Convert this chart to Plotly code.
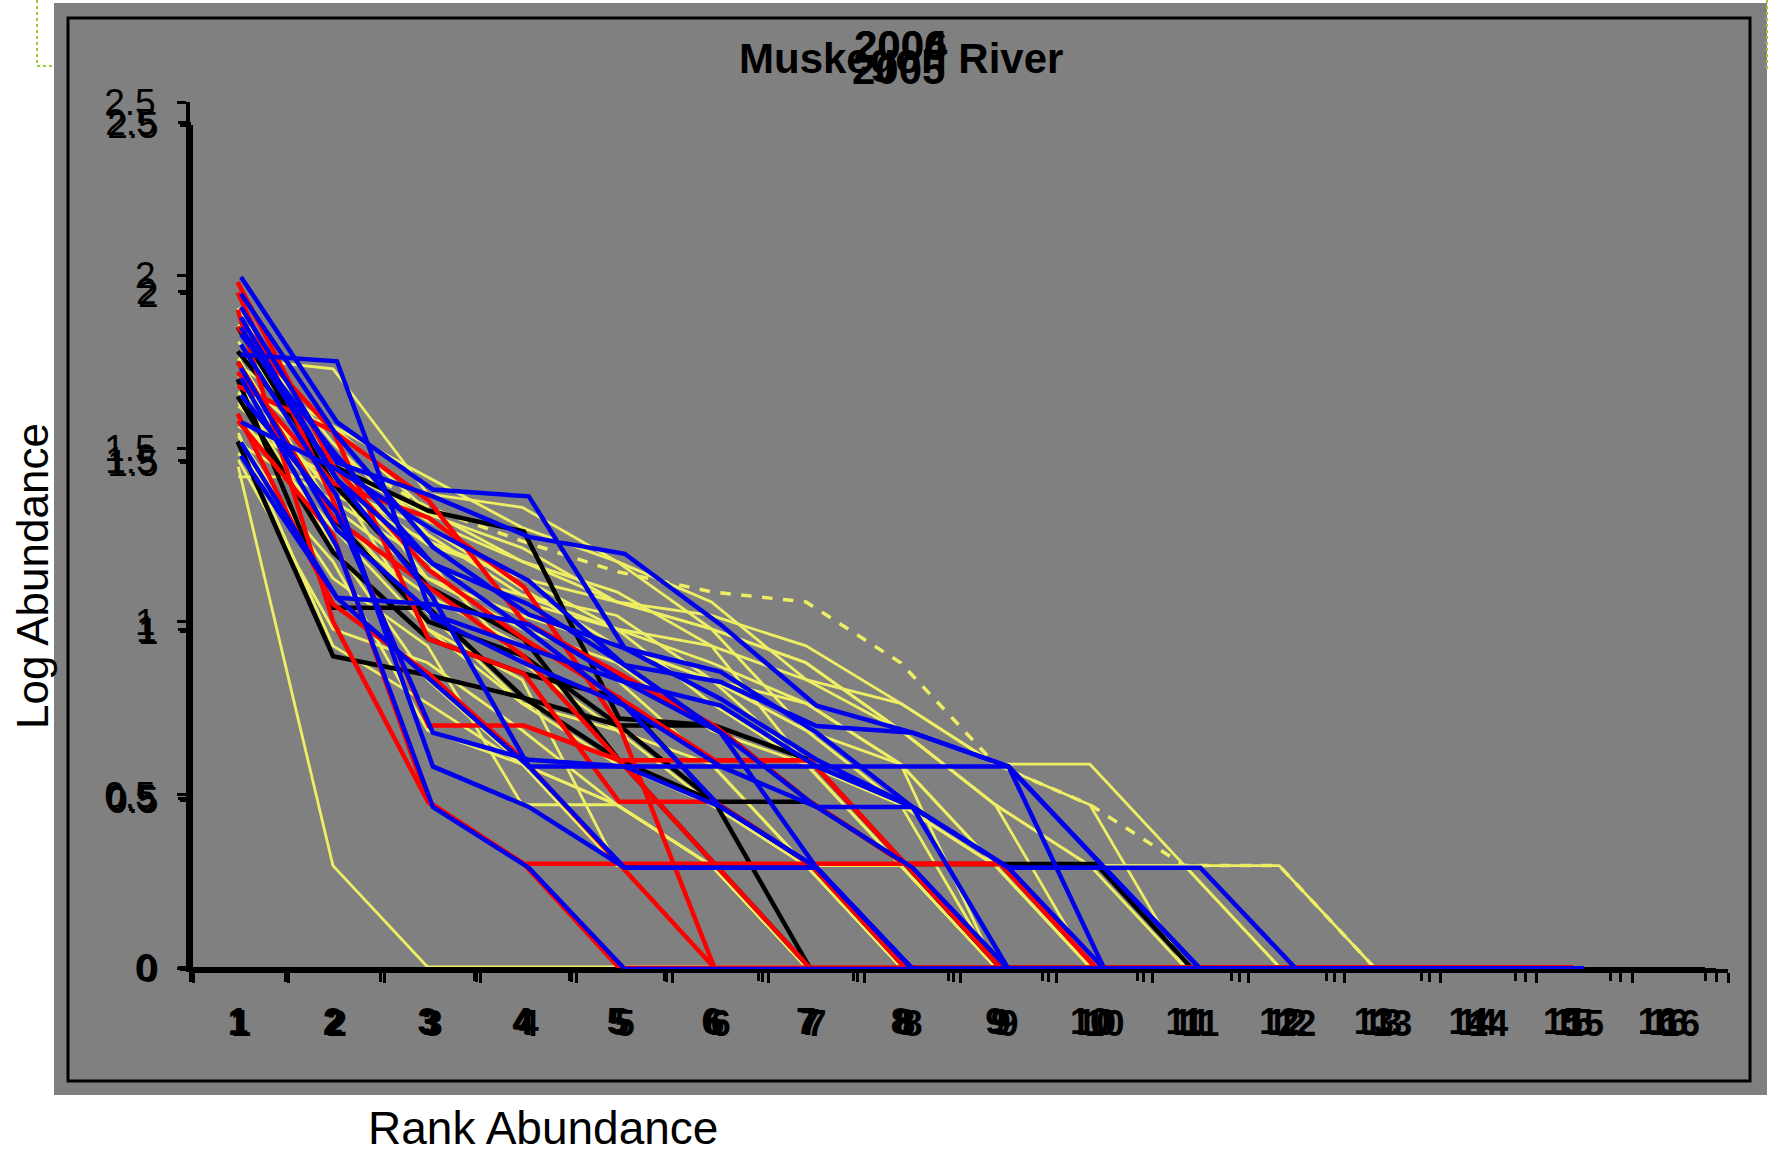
import plotly.graph_objects as go

W, H = 1770, 1154

ranks = list(range(1, 16))
rank_labels = [str(i) for i in range(1, 17)]
y_ticks = [0, 0.5, 1, 1.5, 2, 2.5]

# Log abundance by rank (each list covers ranks 1..15)
yellow_series = [
    [1.48, 0.30, 0, 0, 0, 0, 0, 0, 0, 0, 0, 0, 0, 0, 0],
    [1.72, 1.40, 1.26, 1.15, 1.08, 1.04, 0.95, 0.78, 0.60, 0.60, 0.30, 0, 0, 0, 0],
    [1.80, 1.77, 1.40, 1.36, 1.20, 1.08, 0.85, 0.70, 0.48, 0.30, 0.30, 0, 0, 0, 0],
    [1.70, 1.60, 1.45, 1.30, 1.20, 1.00, 0.90, 0.70, 0.48, 0, 0, 0, 0, 0, 0],
    [1.60, 1.45, 1.25, 1.15, 1.00, 0.90, 0.78, 0.60, 0.30, 0, 0, 0, 0, 0, 0],
    [1.55, 1.38, 1.20, 1.08, 1.00, 0.78, 0.60, 0.30, 0, 0, 0, 0, 0, 0, 0],
    [1.66, 1.42, 1.30, 1.12, 0.95, 0.85, 0.70, 0.48, 0.30, 0, 0, 0, 0, 0, 0],
    [1.75, 1.50, 1.15, 1.00, 0.90, 0.70, 0.60, 0.48, 0, 0, 0, 0, 0, 0, 0],
    [1.62, 1.30, 1.10, 0.95, 0.85, 0.60, 0.30, 0.30, 0, 0, 0, 0, 0, 0, 0],
    [1.50, 1.00, 0.90, 0.70, 0.48, 0.30, 0, 0, 0, 0, 0, 0, 0, 0, 0],
    [1.45, 1.45, 1.00, 0.85, 0.30, 0.30, 0, 0, 0, 0, 0, 0, 0, 0, 0],
    [1.80, 1.35, 1.05, 0.78, 0.60, 0.48, 0.30, 0, 0, 0, 0, 0, 0, 0, 0],
    [1.85, 1.48, 1.20, 0.90, 0.70, 0.60, 0.30, 0, 0, 0, 0, 0, 0, 0, 0],
    [1.57, 1.15, 0.95, 0.48, 0.48, 0.30, 0, 0, 0, 0, 0, 0, 0, 0, 0],
    [1.70, 1.25, 0.85, 0.60, 0.30, 0.30, 0, 0, 0, 0, 0, 0, 0, 0, 0],
    [1.78, 1.60, 1.35, 1.20, 1.08, 1.00, 0.70, 0.60, 0.30, 0.30, 0, 0, 0, 0, 0],
    [1.67, 1.36, 1.15, 1.04, 0.95, 0.85, 0.78, 0.60, 0, 0, 0, 0, 0, 0, 0],
    [1.90, 1.55, 1.28, 1.10, 1.00, 0.95, 0.85, 0.78, 0.60, 0.48, 0, 0, 0, 0, 0],
    [1.52, 1.20, 0.70, 0.60, 0.48, 0.30, 0.30, 0, 0, 0, 0, 0, 0, 0, 0],
    [1.63, 1.30, 1.00, 0.78, 0.70, 0.48, 0.30, 0.30, 0, 0, 0, 0, 0, 0, 0],
    [1.73, 1.45, 1.18, 1.10, 1.04, 0.85, 0.60, 0.48, 0.30, 0, 0, 0, 0, 0, 0],
    [1.58, 0.95, 0.78, 0.60, 0.48, 0.30, 0, 0, 0, 0, 0, 0, 0, 0, 0],
    [1.82, 1.50, 1.32, 1.20, 1.11, 0.95, 0.60, 0.30, 0, 0, 0, 0, 0, 0, 0],
    [1.68, 1.48, 1.34, 1.24, 1.08, 1.00, 0.90, 0.70, 0.48, 0.30, 0.30, 0.30, 0, 0, 0],
]
yellow_dashed = [1.95, 1.52, 1.36, 1.26, 1.17, 1.11, 1.08, 0.90, 0.60, 0.48, 0.30, 0.30, 0, 0, 0]

black_series = [
    [1.52, 0.90, 0.845, 0.78, 0.70, 0.48, 0.30, 0, 0, 0, 0, 0, 0, 0, 0],
    [1.70, 1.04, 1.04, 0.78, 0.60, 0.48, 0, 0, 0, 0, 0, 0, 0, 0, 0],
    [1.78, 1.45, 1.32, 1.26, 0.72, 0.70, 0.60, 0.30, 0, 0, 0, 0, 0, 0, 0],
    [1.75, 1.30, 1.00, 0.90, 0.70, 0.70, 0.48, 0.30, 0.30, 0.30, 0, 0, 0, 0, 0],
    [1.65, 1.20, 0.95, 0.85, 0.78, 0.48, 0.48, 0.30, 0, 0, 0, 0, 0, 0, 0],
    [1.85, 1.40, 1.10, 0.95, 0.60, 0.30, 0, 0, 0, 0, 0, 0, 0, 0, 0],
]

red_series = [
    [1.90, 1.00, 0.477, 0.301, 0.301, 0.301, 0.301, 0.301, 0.301, 0, 0, 0, 0, 0, 0],
    [1.95, 1.35, 0.70, 0.70, 0.60, 0.60, 0.60, 0.30, 0, 0, 0, 0, 0, 0, 0],
    [1.75, 1.30, 1.10, 0.90, 0.60, 0.30, 0, 0, 0, 0, 0, 0, 0, 0, 0],
    [1.85, 1.55, 1.35, 1.00, 0.85, 0.70, 0.48, 0.30, 0.30, 0, 0, 0, 0, 0, 0],
    [1.68, 1.55, 0.95, 0.85, 0.48, 0.48, 0.30, 0, 0, 0, 0, 0, 0, 0, 0],
    [1.60, 1.05, 0.85, 0.60, 0.30, 0, 0, 0, 0, 0, 0, 0, 0, 0, 0],
    [1.98, 1.45, 1.15, 0.95, 0.78, 0.60, 0.60, 0.30, 0.30, 0, 0, 0, 0, 0, 0],
    [1.72, 1.40, 1.30, 1.10, 0.70, 0, 0, 0, 0, 0, 0, 0, 0, 0, 0],
    [1.58, 1.25, 0.48, 0.30, 0, 0, 0, 0, 0, 0, 0, 0, 0, 0, 0],
]

blue_series = [
    [2.05, 1.62, 1.42, 1.40, 0.95, 0.88, 0.70, 0.48, 0.30, 0, 0, 0, 0, 0, 0],
    [1.82, 1.80, 1.04, 0.90, 0.78, 0.60, 0.48, 0.30, 0, 0, 0, 0, 0, 0, 0],
    [1.96, 1.50, 1.40, 1.28, 1.23, 1.02, 0.78, 0.70, 0.60, 0.30, 0, 0, 0, 0, 0],
    [1.93, 1.45, 1.20, 1.08, 0.90, 0.85, 0.72, 0.70, 0.60, 0, 0, 0, 0, 0, 0],
    [1.56, 1.10, 1.08, 1.02, 0.85, 0.78, 0.60, 0.48, 0.30, 0.30, 0, 0, 0, 0, 0],
    [1.75, 1.25, 0.48, 0.30, 0, 0, 0, 0, 0, 0, 0, 0, 0, 0, 0],
    [1.85, 1.40, 0.60, 0.48, 0.30, 0.30, 0.30, 0, 0, 0, 0, 0, 0, 0, 0],
    [1.70, 1.35, 0.70, 0.62, 0.60, 0.48, 0.30, 0, 0, 0, 0, 0, 0, 0, 0],
    [1.90, 1.45, 1.10, 0.60, 0.60, 0.60, 0.60, 0.60, 0.60, 0.30, 0.30, 0, 0, 0, 0],
    [1.78, 1.30, 1.05, 0.95, 0.85, 0.70, 0.48, 0.48, 0.30, 0.30, 0, 0, 0, 0, 0],
    [1.52, 1.10, 0.85, 0.60, 0.30, 0.30, 0.30, 0, 0, 0, 0, 0, 0, 0, 0],
    [1.88, 1.52, 1.20, 1.00, 0.78, 0.48, 0.30, 0, 0, 0, 0, 0, 0, 0, 0],
    [1.62, 1.48, 1.30, 1.15, 0.90, 0.70, 0.30, 0, 0, 0, 0, 0, 0, 0, 0],
    [2.00, 1.58, 1.25, 1.05, 0.95, 0.80, 0.62, 0.48, 0, 0, 0, 0, 0, 0, 0],
]

YELLOW = "rgb(238,238,100)"
BLACK = "rgb(0,0,0)"
RED = "rgb(255,0,0)"
BLUE = "rgb(0,0,235)"

fig = go.Figure()

# layer 1: yellow chart; layer 2: black/red chart; layer 3: blue chart
for s in yellow_series:
    fig.add_trace(go.Scatter(x=ranks, y=s, mode="lines", line=dict(color=YELLOW, width=2.8),
                             xaxis="x", yaxis="y", showlegend=False, hoverinfo="skip"))
fig.add_trace(go.Scatter(x=ranks, y=yellow_dashed, mode="lines",
                         line=dict(color=YELLOW, width=3.5, dash="dash"),
                         xaxis="x", yaxis="y", showlegend=False, hoverinfo="skip"))
for s in black_series:
    fig.add_trace(go.Scatter(x=ranks, y=s, mode="lines", line=dict(color=BLACK, width=4.5),
                             xaxis="x2", yaxis="y2", showlegend=False, hoverinfo="skip"))
for s in red_series:
    fig.add_trace(go.Scatter(x=ranks, y=s, mode="lines", line=dict(color=RED, width=4.5),
                             xaxis="x2", yaxis="y2", showlegend=False, hoverinfo="skip"))
for s in blue_series:
    fig.add_trace(go.Scatter(x=ranks, y=s, mode="lines", line=dict(color=BLUE, width=4.5),
                             xaxis="x3", yaxis="y3", showlegend=False, hoverinfo="skip"))

FONT = "Liberation Sans Narrow, Liberation Sans, Arial, sans-serif"


def xaxis_def(x0, x1, anchor):
    return dict(
        domain=[x0 / W, x1 / W], anchor=anchor, range=[0.5, 16.5], automargin=False,
        tickmode="array", tickvals=list(range(1, 17)),
        ticktext=["<b>" + t + "</b>" for t in rank_labels],
        ticks="", showline=True, linecolor="black", linewidth=4,
        showgrid=False, zeroline=False,
        tickfont=dict(family=FONT, size=36, color="black"),
        ticklabelstandoff=20,
        minor=dict(tickmode="linear", tick0=0.5, dtick=1, ticks="outside",
                   ticklen=10, tickwidth=3, tickcolor="black", showgrid=False),
    )


def yaxis_def(ytop, ybot, anchor):
    return dict(
        domain=[1 - ybot / H, 1 - ytop / H], anchor=anchor, range=[0, 2.5], automargin=False,
        tickmode="array", tickvals=y_ticks, ticktext=[f"{v:g}" for v in y_ticks],
        ticks="outside", ticklen=9, tickwidth=3, tickcolor="black",
        showline=True, linecolor="black", linewidth=4,
        showgrid=False, zeroline=False,
        tickfont=dict(family="Liberation Sans, Arial, sans-serif", size=37, color="black"),
        ticklabelstandoff=14,
    )


fig.update_layout(
    width=W, height=H,
    margin=dict(l=0, r=0, t=0, b=0, pad=0, autoexpand=False),
    paper_bgcolor="white",
    plot_bgcolor="rgba(0,0,0,0)",
    showlegend=False,
    xaxis=xaxis_def(191, 1705, "y"),
    yaxis=yaxis_def(122, 967, "x"),
    xaxis2=xaxis_def(190, 1716, "y2"),
    yaxis2=yaxis_def(102, 968, "x2"),
    xaxis3=xaxis_def(193, 1728, "y3"),
    yaxis3=yaxis_def(125, 969, "x3"),
    shapes=[
        dict(type="rect", xref="paper", yref="paper", x0=54 / W, x1=1767 / W,
             y0=1 - 1095 / H, y1=1 - 3 / H, fillcolor="rgb(128,128,128)",
             line=dict(width=0), layer="below"),
        dict(type="rect", xref="paper", yref="paper", x0=68 / W, x1=1750 / W,
             y0=1 - 1081 / H, y1=1 - 18 / H, fillcolor="rgba(0,0,0,0)",
             line=dict(color="black", width=3), layer="below"),
        dict(type="path", xref="paper", yref="paper",
             path=f"M {37 / W},{1} L {37 / W},{1 - 66 / H} L {54 / W},{1 - 66 / H}",
             line=dict(color="yellowgreen", width=2, dash="dot")),
        dict(type="line", xref="paper", yref="paper", x0=1767 / W, x1=1767 / W,
             y0=1, y1=1 - 70 / H, line=dict(color="yellowgreen", width=2, dash="dot")),
    ],
    annotations=[
        dict(text="<b>Muskegon River</b>", x=901 / W, y=1 - 58 / H, xref="paper", yref="paper",
             showarrow=False, xanchor="center", yanchor="middle",
             font=dict(family="Liberation Sans, Arial", size=42, color="black")),
        dict(text="<b>2006</b>", x=900 / W, y=1 - 45 / H, xref="paper", yref="paper",
             showarrow=False, xanchor="center", yanchor="middle",
             font=dict(family="Liberation Sans, Arial", size=42, color="black")),
        dict(text="<b>2004</b>", x=901 / W, y=1 - 46 / H, xref="paper", yref="paper",
             showarrow=False, xanchor="center", yanchor="middle",
             font=dict(family="Liberation Sans, Arial", size=42, color="black")),
        dict(text="<b>2005</b>", x=899 / W, y=1 - 69 / H, xref="paper", yref="paper",
             showarrow=False, xanchor="center", yanchor="middle",
             font=dict(family="Liberation Sans, Arial", size=42, color="black")),
        dict(text="Log Abundance", x=32 / W, y=1 - 576 / H, xref="paper", yref="paper",
             showarrow=False, textangle=-90, xanchor="center", yanchor="middle",
             font=dict(family="Liberation Sans, Arial", size=44, color="black")),
        dict(text="Rank Abundance", x=543 / W, y=1 - 1128 / H, xref="paper", yref="paper",
             showarrow=False, xanchor="center", yanchor="middle",
             font=dict(family="Liberation Sans, Arial", size=46, color="black")),
    ],
)

fig.write_html("out.html", config={"displayModeBar": False},
               post_script="document.body.style.margin='0';document.body.style.overflow='hidden';")
